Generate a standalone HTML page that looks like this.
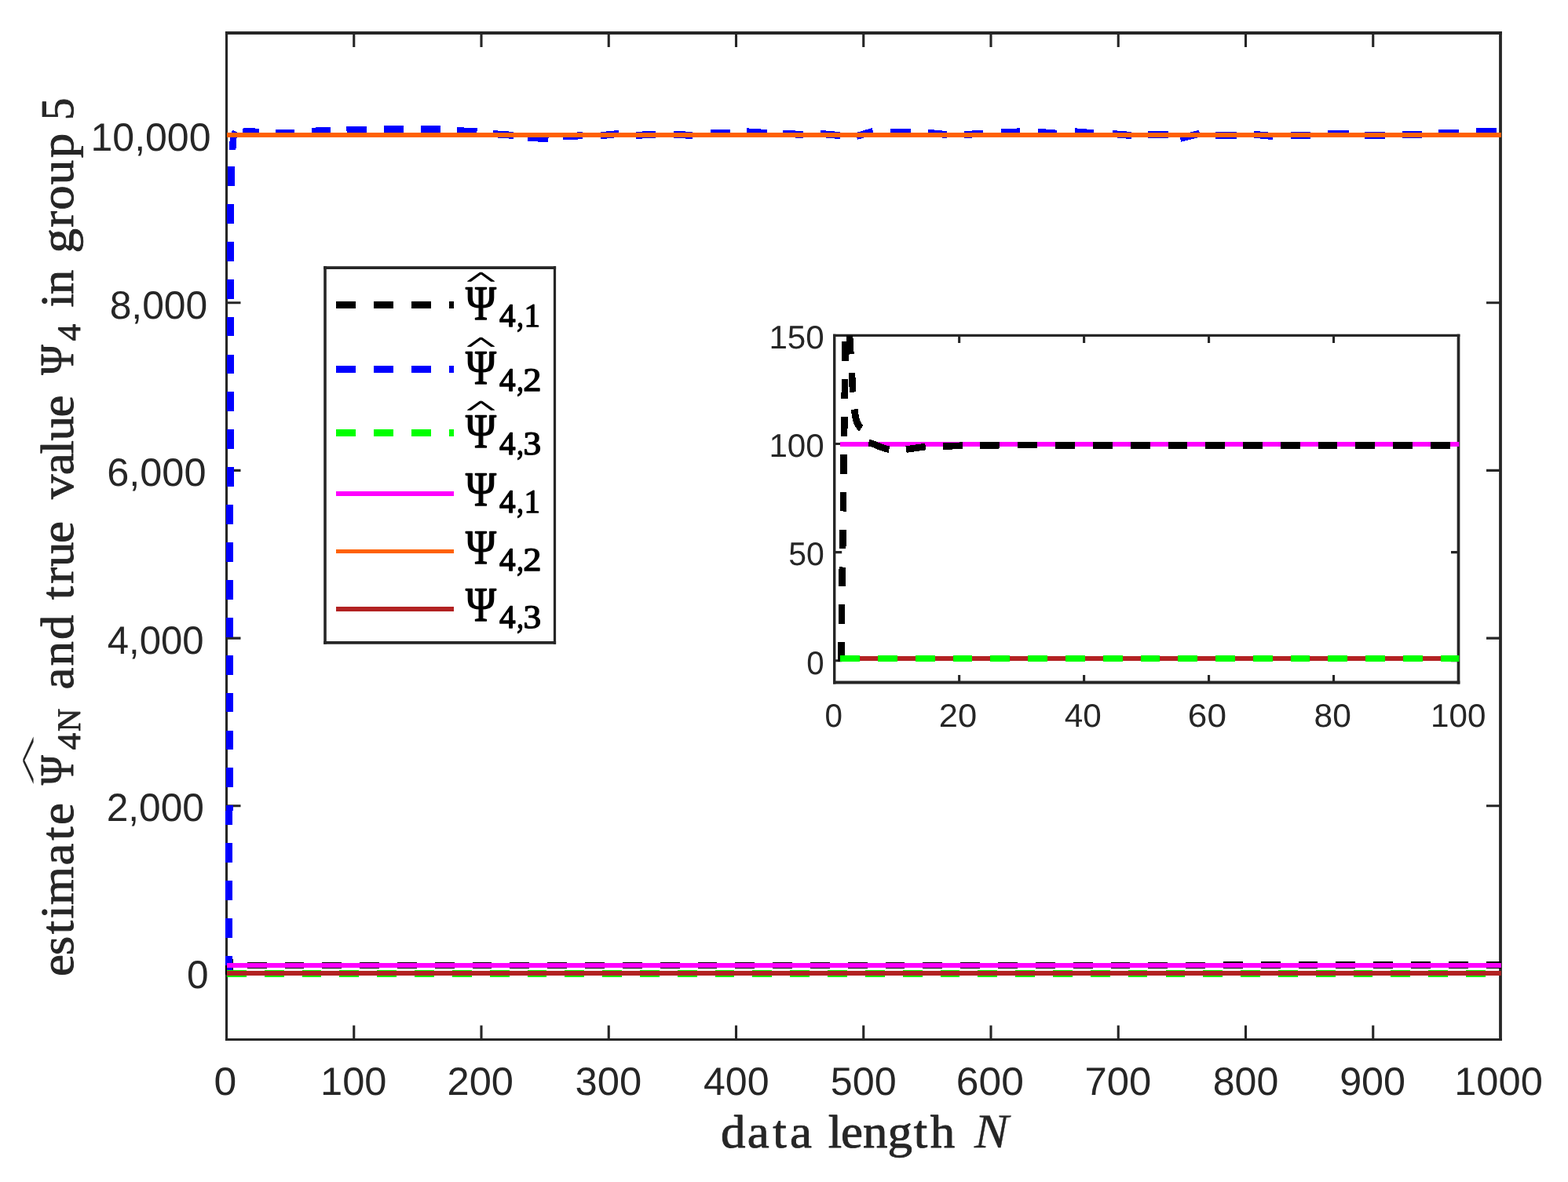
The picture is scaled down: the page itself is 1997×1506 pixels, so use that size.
<!DOCTYPE html>
<html lang="en"><head><meta charset="utf-8"><title>estimate and true value in group 5</title>
<style>html,body{margin:0;padding:0;background:#fff}svg{display:block}text{font-kerning:none;text-rendering:geometricPrecision}</style>
</head><body>
<svg width="1997" height="1506" viewBox="0 0 1997 1506">
<rect width="1997" height="1506" fill="#fff"/>
<g stroke="#262626" stroke-width="3.1" fill="none">
<path d="M286.95 42H1912.9" stroke-width="3.9"/>
<path d="M286.95 1324.5H1912.9" stroke-width="3.1"/>
<path d="M288.5 40.05V1326.05" stroke-width="3.1"/>
<path d="M1911 40.05V1326.05" stroke-width="3.8"/>
<path d="M450.75 1324.5v-18M450.75 42v18M613 1324.5v-18M613 42v18M775.25 1324.5v-18M775.25 42v18M937.5 1324.5v-18M937.5 42v18M1099.75 1324.5v-18M1099.75 42v18M1262 1324.5v-18M1262 42v18M1424.25 1324.5v-18M1424.25 42v18M1586.5 1324.5v-18M1586.5 42v18M1748.75 1324.5v-18M1748.75 42v18M288.5 1240.5h18M1911 1240.5h-18M288.5 1026.8h18M1911 1026.8h-18M288.5 813.1h18M1911 813.1h-18M288.5 599.4h18M1911 599.4h-18M288.5 385.7h18M1911 385.7h-18M288.5 172h18M1911 172h-18"/>
</g>
<clipPath id="cm"><rect x="286.9" y="42" width="1624.9" height="1282.5"/></clipPath>
<g clip-path="url(#cm)" fill="none" shape-rendering="crispEdges">
<path d="M291.5 1242V1222" stroke="#000" stroke-width="10"/>
<path d="M314.7 1230H339.5M362.52 1230H387.32M410.34 1230H435.14M458.16 1230H482.96M505.98 1230H530.78M553.8 1230H578.6M601.62 1230H626.42M649.44 1230H674.24M697.26 1230H722.06M745.08 1230H769.88M792.9 1230H817.7M840.72 1230H865.52M888.54 1230H913.34M936.36 1230H961.16M984.18 1230H1008.98M1032 1230H1056.8M1079.82 1230H1104.62M1127.64 1230H1152.44M1175.46 1230H1200.26M1223.28 1230H1248.08M1271.1 1230H1295.9M1318.92 1230H1343.72M1366.74 1230H1391.54M1414.56 1230H1439.36M1462.38 1230H1487.18M1510.2 1230H1535" stroke="#000" stroke-width="8" fill="none"/>
<path d="M1558.02 1229.5H1582.82M1605.84 1229.5H1630.64M1653.66 1229.5H1678.46M1701.48 1229.5H1726.28M1749.3 1229.5H1774.1M1797.12 1229.5H1821.92M1844.94 1229.5H1869.74M1892.76 1229.5H1912.5" stroke="#000" stroke-width="9" fill="none"/>
<path d="M291.51 1236.5L291.56 1218M291.61 1194.9L291.68 1170.1M291.73 1147L291.8 1122.2M291.86 1099.1L291.92 1074.3M291.98 1051.2L292.04 1026.4M292.1 1003.3L292.16 978.5M292.22 955.4L292.28 930.6M292.34 907.5L292.4 882.7M292.46 859.6L292.52 834.8M292.58 811.7L292.64 786.9M292.7 763.8L292.76 739M292.82 715.9L292.89 691.1M292.94 668L293.01 643.2M293.06 620.1L293.13 595.3M293.19 572.2L293.25 547.4M293.31 524.3L293.37 499.5M293.43 476.4L293.49 451.6M293.55 428.5L293.61 403.7M293.67 380.6L293.73 355.8M293.79 332.7L293.85 307.9M293.91 284.8L293.97 260M294.03 236.9L294.09 212.1" stroke="#00f" stroke-width="9"/>
<path d="M287.5 1229.5V1241" stroke="#000" stroke-width="2.4"/>
<path d="M296 191L297.5 172L300 167.5" stroke="#00f" stroke-width="8.6" stroke-linejoin="round"/>
<path d="M309.4 167.4L329.8 168.2M351 170L375 169.6M396.7 167.2L420.9 166.4M441.5 166L466.7 165.4M489 164.2L514 164.2M536 164.8L561 164.4M582 166.6L607.5 167.8M628 170.6L654 172.4M672 175.6L698.5 176.4M716.8 173.6L742 172.8M765 172.8L788 170.4M810 172.2L835 171.6M857.7 171L882 172.6M905 169L930 169M951 167.8L977 169.6M997 170.4L1023 171.4M1045 170.4L1070 172.6M1090.7 173.6L1112 167.4M1133.7 168.2L1160 168.2M1182 169.2L1206 171.6M1228 171.6L1252 170.2M1275 169L1299 167.8M1322 168.2L1346 170.2M1369 167.8L1393 169.8M1416.5 170.4L1441 172.6M1462 171.4L1487.6 171.6M1503 176.4L1528 170.2M1548 172.4L1575 172.4M1597 171.2L1621 173.6M1644 172.4L1669 172.4M1691 170.2L1718 170.4M1738 172.4L1764 172.4M1786 171.4L1811 171.4M1832 169L1858 169M1880 168L1906 167.2" stroke="#00f" stroke-width="9"/>
<path d="M289 1240.5H313.8M336.82 1240.5H361.62M384.64 1240.5H409.44M432.46 1240.5H457.26M480.28 1240.5H505.08M528.1 1240.5H552.9M575.92 1240.5H600.72M623.74 1240.5H648.54M671.56 1240.5H696.36M719.38 1240.5H744.18M767.2 1240.5H792M815.02 1240.5H839.82M862.84 1240.5H887.64M910.66 1240.5H935.46M958.48 1240.5H983.28M1006.3 1240.5H1031.1M1054.12 1240.5H1078.92M1101.94 1240.5H1126.74M1149.76 1240.5H1174.56M1197.58 1240.5H1222.38M1245.4 1240.5H1270.2M1293.22 1240.5H1318.02M1341.04 1240.5H1365.84M1388.86 1240.5H1413.66M1436.68 1240.5H1461.48M1484.5 1240.5H1509.3M1532.32 1240.5H1557.12M1580.14 1240.5H1604.94M1627.96 1240.5H1652.76M1675.78 1240.5H1700.58M1723.6 1240.5H1748.4M1771.42 1240.5H1796.22M1819.24 1240.5H1844.04M1867.06 1240.5H1891.86" stroke="#0f0" stroke-width="9" fill="none"/>
<line x1="289" y1="1230" x2="1912.5" y2="1230" stroke="#f0f" stroke-width="6"/>
<line x1="289" y1="172" x2="1912.5" y2="172" stroke="#ff6103" stroke-width="6"/>
<line x1="289" y1="1240" x2="1912.5" y2="1240" stroke="#b22222" stroke-width="6"/>
</g>
<text transform="translate(272.58 1394.5) scale(1.0334 1.0000)" font-family="Liberation Sans, sans-serif" font-size="50" fill="#262626">0</text>
<text transform="translate(408.05 1394.5) scale(1.0120 1.0000)" font-family="Liberation Sans, sans-serif" font-size="50" fill="#262626">100</text>
<text transform="translate(569.56 1394.5) scale(1.0120 1.0000)" font-family="Liberation Sans, sans-serif" font-size="50" fill="#262626">200</text>
<text transform="translate(732.57 1394.5) scale(1.0143 1.0000)" font-family="Liberation Sans, sans-serif" font-size="50" fill="#262626">300</text>
<text transform="translate(895.95 1394.5) scale(1.0022 1.0000)" font-family="Liberation Sans, sans-serif" font-size="50" fill="#262626">400</text>
<text transform="translate(1057.79 1394.5) scale(1.0054 1.0000)" font-family="Liberation Sans, sans-serif" font-size="50" fill="#262626">500</text>
<text transform="translate(1217.78 1394.5) scale(1.0313 1.0000)" font-family="Liberation Sans, sans-serif" font-size="50" fill="#262626">600</text>
<text transform="translate(1381.39 1394.5) scale(1.0164 1.0000)" font-family="Liberation Sans, sans-serif" font-size="50" fill="#262626">700</text>
<text transform="translate(1544.72 1394.5) scale(1.0013 1.0000)" font-family="Liberation Sans, sans-serif" font-size="50" fill="#262626">800</text>
<text transform="translate(1706.14 1394.5) scale(1.0060 1.0000)" font-family="Liberation Sans, sans-serif" font-size="50" fill="#262626">900</text>
<text transform="translate(1852.21 1394.5) scale(1.0120 1.0000)" font-family="Liberation Sans, sans-serif" font-size="50" fill="#262626">1000</text>
<text transform="translate(115.52 192) scale(1.0000 1.0000)" font-family="Liberation Sans, sans-serif" font-size="50" fill="#262626">10,000</text>
<text transform="translate(139.64 406.2) scale(0.9959 1.0000)" font-family="Liberation Sans, sans-serif" font-size="50" fill="#262626">8,000</text>
<text transform="translate(136.14 618.6) scale(1.0097 1.0000)" font-family="Liberation Sans, sans-serif" font-size="50" fill="#262626">6,000</text>
<text transform="translate(136.77 832.9) scale(0.9818 1.0000)" font-family="Liberation Sans, sans-serif" font-size="50" fill="#262626">4,000</text>
<text transform="translate(135.7 1046) scale(0.9929 1.0000)" font-family="Liberation Sans, sans-serif" font-size="50" fill="#262626">2,000</text>
<text transform="translate(238.06 1259.3) scale(0.9916 1.0000)" font-family="Liberation Sans, sans-serif" font-size="50" fill="#262626">0</text>
<text transform="translate(0 1462.3) scale(1.0600 1)" x="865.95 897.99 928.55 949.09" y="0" font-family="Liberation Serif, serif" font-size="59.4" fill="#262626" stroke="#262626" stroke-width="0.9" stroke-linejoin="round">data</text>
<text transform="translate(0 1462.3) scale(1.0600 1)" x="995.11 1010.46 1036.83 1066.42 1097.86 1117.8" y="0" font-family="Liberation Serif, serif" font-size="59.4" fill="#262626" stroke="#262626" stroke-width="0.9" stroke-linejoin="round">length</text>
<text transform="translate(1240.9 1462.3) scale(1.0970 1.0436)" font-family="Liberation Serif, serif" font-size="59.4" fill="#262626" font-style="italic" stroke="#262626" stroke-width="0.4" stroke-linejoin="round">N</text>
<text transform="translate(92.5 0) rotate(-90) scale(1.0600 1)" x="-1173.57 -1148.33 -1122.96 -1104.16 -1087.64 -1040.18 -1010.21 -991.64" y="0" font-family="Liberation Serif, serif" font-size="59.4" fill="#262626" stroke="#262626" stroke-width="0.9" stroke-linejoin="round">estimate</text>
<text transform="translate(92.5 1000.16) rotate(-90) scale(0.8670 1.0294)" font-family="Liberation Serif, serif" font-size="59.4" fill="#262626" stroke="#262626" stroke-width="0.9" stroke-linejoin="round">Ψ</text>
<text transform="translate(47.93 1000.94) rotate(-90) scale(2.2818 0.4769)" font-family="Liberation Serif, serif" font-size="60" fill="#262626">^</text>
<text transform="translate(102.3 955.58) rotate(-90) scale(1.0380 1.0000)" font-family="Liberation Serif, serif" font-size="42" fill="#262626" stroke="#262626" stroke-width="0.9" stroke-linejoin="round">4</text>
<text transform="translate(102.3 932.03) rotate(-90) scale(0.9602 1.0000)" font-family="Liberation Serif, serif" font-size="42" fill="#262626" stroke="#262626" stroke-width="0.9" stroke-linejoin="round">N</text>
<text transform="translate(92.5 0) rotate(-90) scale(1.0600 1)" x="-828.9 -800.56 -768.95" y="0" font-family="Liberation Serif, serif" font-size="59.4" fill="#262626" stroke="#262626" stroke-width="0.9" stroke-linejoin="round">and</text>
<text transform="translate(92.5 0) rotate(-90) scale(1.0600 1)" x="-720.98 -701.7 -681.1 -652.87" y="0" font-family="Liberation Serif, serif" font-size="59.4" fill="#262626" stroke="#262626" stroke-width="0.9" stroke-linejoin="round">true</text>
<text transform="translate(92.5 0) rotate(-90) scale(1.0600 1)" x="-600.12 -571.1 -545.67 -529.63 -501.36" y="0" font-family="Liberation Serif, serif" font-size="59.4" fill="#262626" stroke="#262626" stroke-width="0.9" stroke-linejoin="round">value</text>
<text transform="translate(92.5 477.76) rotate(-90) scale(0.8783 1.0294)" font-family="Liberation Serif, serif" font-size="59.4" fill="#262626" stroke="#262626" stroke-width="0.9" stroke-linejoin="round">Ψ</text>
<text transform="translate(102.3 434.38) rotate(-90) scale(1.0282 1.0000)" font-family="Liberation Serif, serif" font-size="42" fill="#262626" stroke="#262626" stroke-width="0.9" stroke-linejoin="round">4</text>
<text transform="translate(92.5 0) rotate(-90) scale(1.0600 1)" x="-369.38 -353.97" y="0" font-family="Liberation Serif, serif" font-size="59.4" fill="#262626" stroke="#262626" stroke-width="0.9" stroke-linejoin="round">in</text>
<text transform="translate(92.5 0) rotate(-90) scale(1.0600 1)" x="-304.27 -273.36 -252.6 -222.02 -189.81" y="0" font-family="Liberation Serif, serif" font-size="59.4" fill="#262626" stroke="#262626" stroke-width="0.9" stroke-linejoin="round">group</text>
<text transform="translate(92.5 153.29) rotate(-90) scale(0.9626 1.0000)" font-family="Liberation Serif, serif" font-size="59.4" fill="#262626" stroke="#262626" stroke-width="0.9" stroke-linejoin="round">5</text>
<g stroke="#262626" fill="none">
<rect x="414" y="341.1" width="292.5" height="477.8" fill="#fff"/>
<path d="M412.2 341.1H708.1" stroke-width="3.9"/>
<path d="M412.2 818.9H708.1" stroke-width="3.6"/>
<path d="M414 339.15V820.7" stroke-width="3.6"/>
<path d="M706.5 339.15V820.7" stroke-width="3.2"/>
</g>
<g shape-rendering="crispEdges">
<path d="M428 388.5h25M476 388.5h25M524 388.5h25M572 388.5h6" stroke="#000" stroke-width="9" fill="none"/>
<path d="M428 470h25M476 470h25M524 470h25M572 470h6" stroke="#00f" stroke-width="9" fill="none"/>
<path d="M428 551.5h25M476 551.5h25M524 551.5h25M572 551.5h6" stroke="#0f0" stroke-width="9" fill="none"/>
<line x1="428" y1="629" x2="578" y2="629" stroke="#f0f" stroke-width="6"/>
<line x1="428" y1="702.5" x2="578" y2="702.5" stroke="#ff6103" stroke-width="5"/>
<line x1="428" y1="776" x2="578" y2="776" stroke="#b22222" stroke-width="6"/>
</g>
<text transform="translate(592.97 406.5) scale(0.8885 1.0406)" font-family="Liberation Serif, serif" font-size="59.4" fill="#000" stroke="#000" stroke-width="1.4" stroke-linejoin="round">Ψ</text>
<text transform="translate(594.71 363.31) scale(1.2646 0.4029)" font-family="Liberation Serif, serif" font-size="60" fill="#000" stroke="#000" stroke-width="1.4" stroke-linejoin="round">^</text>
<text transform="translate(635.98 415.8) scale(0.9798 1.0000)" font-family="Liberation Serif, serif" font-size="42" fill="#000" stroke="#000" stroke-width="1.4" stroke-linejoin="round">4</text>
<text transform="translate(658.26 415.8) scale(0.8230 1.0000)" font-family="Liberation Serif, serif" font-size="42" fill="#000" stroke="#000" stroke-width="1.4" stroke-linejoin="round">,</text>
<text transform="translate(667.58 415.8) scale(0.9761 1.0000)" font-family="Liberation Serif, serif" font-size="42" fill="#000" stroke="#000" stroke-width="1.4" stroke-linejoin="round">1</text>
<text transform="translate(592.97 488.8) scale(0.8885 1.0406)" font-family="Liberation Serif, serif" font-size="59.4" fill="#000" stroke="#000" stroke-width="1.4" stroke-linejoin="round">Ψ</text>
<text transform="translate(594.71 445.61) scale(1.2646 0.4029)" font-family="Liberation Serif, serif" font-size="60" fill="#000" stroke="#000" stroke-width="1.4" stroke-linejoin="round">^</text>
<text transform="translate(635.98 498.1) scale(0.9798 1.0000)" font-family="Liberation Serif, serif" font-size="42" fill="#000" stroke="#000" stroke-width="1.4" stroke-linejoin="round">4</text>
<text transform="translate(658.26 498.1) scale(0.8230 1.0000)" font-family="Liberation Serif, serif" font-size="42" fill="#000" stroke="#000" stroke-width="1.4" stroke-linejoin="round">,</text>
<text transform="translate(666.33 498.1) scale(1.1076 1.0000)" font-family="Liberation Serif, serif" font-size="42" fill="#000" stroke="#000" stroke-width="1.4" stroke-linejoin="round">2</text>
<text transform="translate(592.97 570) scale(0.8885 1.0406)" font-family="Liberation Serif, serif" font-size="59.4" fill="#000" stroke="#000" stroke-width="1.4" stroke-linejoin="round">Ψ</text>
<text transform="translate(594.71 526.81) scale(1.2646 0.4029)" font-family="Liberation Serif, serif" font-size="60" fill="#000" stroke="#000" stroke-width="1.4" stroke-linejoin="round">^</text>
<text transform="translate(635.98 578.9) scale(0.9798 1.0000)" font-family="Liberation Serif, serif" font-size="42" fill="#000" stroke="#000" stroke-width="1.4" stroke-linejoin="round">4</text>
<text transform="translate(658.26 578.9) scale(0.8230 1.0000)" font-family="Liberation Serif, serif" font-size="42" fill="#000" stroke="#000" stroke-width="1.4" stroke-linejoin="round">,</text>
<text transform="translate(666.59 578.9) scale(1.0774 1.0000)" font-family="Liberation Serif, serif" font-size="42" fill="#000" stroke="#000" stroke-width="1.4" stroke-linejoin="round">3</text>
<text transform="translate(592.97 644) scale(0.8885 1.0406)" font-family="Liberation Serif, serif" font-size="59.4" fill="#000" stroke="#000" stroke-width="1.4" stroke-linejoin="round">Ψ</text>
<text transform="translate(635.98 653.3) scale(0.9798 1.0000)" font-family="Liberation Serif, serif" font-size="42" fill="#000" stroke="#000" stroke-width="1.4" stroke-linejoin="round">4</text>
<text transform="translate(658.26 653.3) scale(0.8230 1.0000)" font-family="Liberation Serif, serif" font-size="42" fill="#000" stroke="#000" stroke-width="1.4" stroke-linejoin="round">,</text>
<text transform="translate(667.58 653.3) scale(0.9761 1.0000)" font-family="Liberation Serif, serif" font-size="42" fill="#000" stroke="#000" stroke-width="1.4" stroke-linejoin="round">1</text>
<text transform="translate(592.97 717.7) scale(0.8885 1.0406)" font-family="Liberation Serif, serif" font-size="59.4" fill="#000" stroke="#000" stroke-width="1.4" stroke-linejoin="round">Ψ</text>
<text transform="translate(635.98 726.6) scale(0.9798 1.0000)" font-family="Liberation Serif, serif" font-size="42" fill="#000" stroke="#000" stroke-width="1.4" stroke-linejoin="round">4</text>
<text transform="translate(658.26 726.6) scale(0.8230 1.0000)" font-family="Liberation Serif, serif" font-size="42" fill="#000" stroke="#000" stroke-width="1.4" stroke-linejoin="round">,</text>
<text transform="translate(666.33 726.6) scale(1.1076 1.0000)" font-family="Liberation Serif, serif" font-size="42" fill="#000" stroke="#000" stroke-width="1.4" stroke-linejoin="round">2</text>
<text transform="translate(592.97 790.9) scale(0.8885 1.0406)" font-family="Liberation Serif, serif" font-size="59.4" fill="#000" stroke="#000" stroke-width="1.4" stroke-linejoin="round">Ψ</text>
<text transform="translate(635.98 799.9) scale(0.9798 1.0000)" font-family="Liberation Serif, serif" font-size="42" fill="#000" stroke="#000" stroke-width="1.4" stroke-linejoin="round">4</text>
<text transform="translate(658.26 799.9) scale(0.8230 1.0000)" font-family="Liberation Serif, serif" font-size="42" fill="#000" stroke="#000" stroke-width="1.4" stroke-linejoin="round">,</text>
<text transform="translate(666.59 799.9) scale(1.0774 1.0000)" font-family="Liberation Serif, serif" font-size="42" fill="#000" stroke="#000" stroke-width="1.4" stroke-linejoin="round">3</text>
<g stroke="#262626" fill="none">
<rect x="1062.7" y="427.4" width="794.8" height="442" fill="#fff"/>
<path d="M1061 427.4H1859.35" stroke-width="3.1"/>
<path d="M1061 869.4H1859.35" stroke-width="4"/>
<path d="M1062.7 425.85V871.4" stroke-width="3.4"/>
<path d="M1857.5 425.85V871.4" stroke-width="3.7"/>
</g>
<path d="M1221.66 869.4v-9.5M1221.66 427.4v9.5M1380.62 869.4v-9.5M1380.62 427.4v9.5M1539.58 869.4v-9.5M1539.58 427.4v9.5M1698.54 869.4v-9.5M1698.54 427.4v9.5M1062.7 841.77h9.5M1857.5 841.77h-9.5M1062.7 703.65h9.5M1857.5 703.65h-9.5M1062.7 565.52h9.5M1857.5 565.52h-9.5" stroke="#262626" stroke-width="3.1" fill="none"/>
<clipPath id="ci"><rect x="1062.7" y="427.4" width="795.6" height="442"/></clipPath>
<g clip-path="url(#ci)" fill="none" shape-rendering="crispEdges">
<line x1="1070.2" y1="565.9" x2="1859" y2="565.9" stroke="#f0f" stroke-width="6.2"/>
<line x1="1070.2" y1="839" x2="1859" y2="839" stroke="#b22222" stroke-width="6.2"/>
<path d="M1071.23 842.9L1071.56 818.2M1071.87 795.05L1072.21 770.35M1072.52 747.2L1072.85 722.5M1073.16 699.35L1073.49 674.65M1073.8 651.5L1074.13 626.8M1074.44 603.65L1074.77 578.95M1075.08 555.8L1075.41 531.1M1075.72 507.95L1076.05 483.25M1076.36 460.1L1076.69 435.4M1081.6 420L1083.4 451.4M1084.9 475L1086.2 499.6M1088.2 521.5C1089.5 534 1091.5 542 1096.8 545.8M1106.4 564.2C1114 565 1122 571.5 1132.5 572.6M1154 572.6L1178.8 569M1200.9 568.8L1226 567.6M1248.2 567.8L1273 567.2M1296.2 567.2L1321.2 566.8M1344.3 567.2H1369.1M1392.05 567.2H1416.85M1439.8 567.2H1464.6M1487.55 567.2H1512.35M1535.3 567.2H1560.1M1583.05 567.2H1607.85M1630.8 567.2H1655.6M1678.55 567.2H1703.35M1726.3 567.2H1751.1M1774.05 567.2H1798.85M1821.8 567.2H1846.6" stroke="#000" stroke-width="8.6"/>
<path d="M1070.2 839.3H1095M1117.99 839.3H1142.79M1165.78 839.3H1190.58M1213.57 839.3H1238.37M1261.36 839.3H1286.16M1309.15 839.3H1333.95M1356.94 839.3H1381.74M1404.73 839.3H1429.53M1452.52 839.3H1477.32M1500.31 839.3H1525.11M1548.1 839.3H1572.9M1595.89 839.3H1620.69M1643.68 839.3H1668.48M1691.47 839.3H1716.27M1739.26 839.3H1764.06M1787.05 839.3H1811.85M1834.84 839.3H1859" stroke="#0f0" stroke-width="8.2" fill="none"/>
</g>
<text transform="translate(1050.52 925.5) scale(0.9689 1.0000)" font-family="Liberation Sans, sans-serif" font-size="41.67" fill="#262626">0</text>
<text transform="translate(1195.71 925.5) scale(1.0440 1.0000)" font-family="Liberation Sans, sans-serif" font-size="41.67" fill="#262626">20</text>
<text transform="translate(1355.83 925.5) scale(1.0145 1.0000)" font-family="Liberation Sans, sans-serif" font-size="41.67" fill="#262626">40</text>
<text transform="translate(1512.86 925.5) scale(1.0585 1.0000)" font-family="Liberation Sans, sans-serif" font-size="41.67" fill="#262626">60</text>
<text transform="translate(1673.55 925.5) scale(1.0207 1.0000)" font-family="Liberation Sans, sans-serif" font-size="41.67" fill="#262626">80</text>
<text transform="translate(1821.99 925.5) scale(1.0120 1.0000)" font-family="Liberation Sans, sans-serif" font-size="41.67" fill="#262626">100</text>
<text transform="translate(979.39 444.2) scale(1.0120 1.0000)" font-family="Liberation Sans, sans-serif" font-size="41.67" fill="#262626">150</text>
<text transform="translate(979.39 582.4) scale(1.0120 1.0000)" font-family="Liberation Sans, sans-serif" font-size="41.67" fill="#262626">100</text>
<text transform="translate(1004.16 720.4) scale(0.9825 1.0000)" font-family="Liberation Sans, sans-serif" font-size="41.67" fill="#262626">50</text>
<text transform="translate(1027.33 858.6) scale(0.9639 1.0000)" font-family="Liberation Sans, sans-serif" font-size="41.67" fill="#262626">0</text>
</svg>
</body></html>
